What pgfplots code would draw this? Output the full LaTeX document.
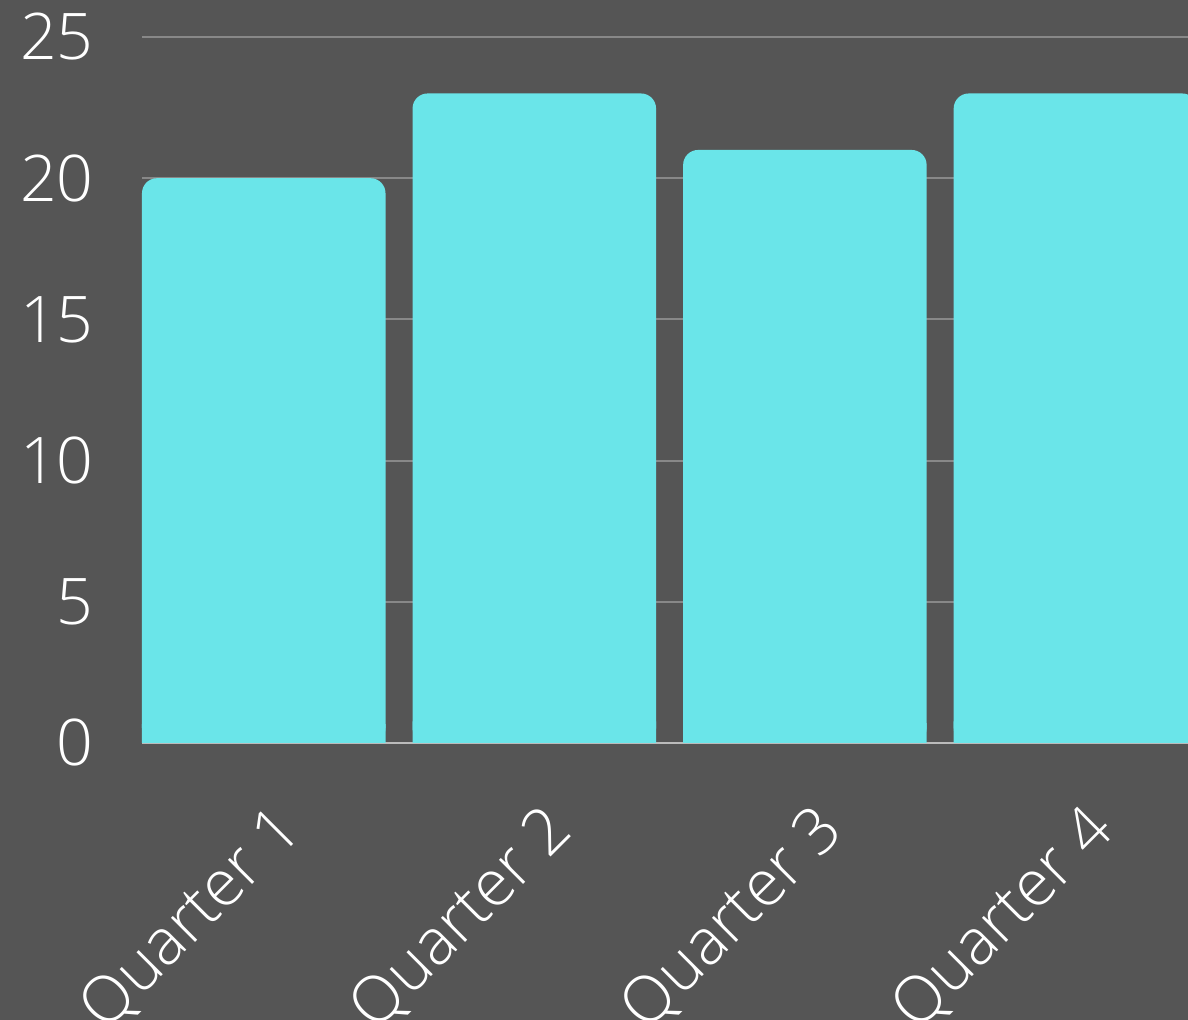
\documentclass[border=0pt]{standalone}
\usepackage{pgfplots}
\pgfplotsset{compat=1.18}
\usepackage{pgfplotstable}
\usepackage{fontspec}
\setmainfont{Open Sans}[UprightFont=* Light]
\definecolor{bg}{HTML}{555555}
\definecolor{barc}{HTML}{6AE5E9}
\definecolor{gridc}{HTML}{888888}
\definecolor{axc}{HTML}{BBBBBB}
\pgfplotstableread{
x v
0 20
1 23
2 21
3 23
}\data
\begin{document}
\begin{tikzpicture}
\fill[bg] (0,0) rectangle (11.88cm,10.2cm);
\useasboundingbox (0,0) rectangle (11.88cm,10.2cm);
\clip (0,0) rectangle (11.88cm,10.2cm);
\begin{axis}[
  at={(1.42cm,2.77cm)}, anchor=south west,
  scale only axis, width=10.46cm, height=7.06cm,
  xmin=-0.45, xmax=3.416, ymin=0, ymax=25,
  axis line style={draw=none},
  major tick style={draw=none},
  ytick={5,10,15,20,25},
  extra y ticks={0},
  extra y tick style={grid style={color=axc, line width=0.6pt}},
  ymajorgrids,
  grid style={color=gridc, line width=0.6pt},
  xtick={0,1,2,3},
  xticklabels={Quarter 1,Quarter 2,Quarter 3,Quarter 4},
  ticklabel style={font=\fontsize{18.3}{22}\selectfont, text=white},
  /pgf/number format/assume math mode=true,
  yticklabel style={xshift=-0.36cm},
  xticklabel style={rotate=45, anchor=east, xshift=-0.12cm, yshift=-0.64cm},
  ybar, bar width=0.9, bar shift=0pt,
]
\addplot[fill=barc, draw=none, rounded corners=0.15cm] table[x=x,y=v] {\data};
\addplot[fill=barc, draw=none] table[x=x,y expr=\thisrow{v}/30] {\data};
\end{axis}
\end{tikzpicture}
\end{document}
